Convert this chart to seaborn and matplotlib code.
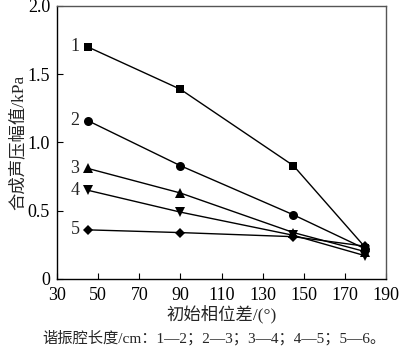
import matplotlib
matplotlib.use("Agg")
import matplotlib.pyplot as plt
import pandas as pd
import seaborn as sns

# initial phase difference (deg)
phase = [45, 90, 145, 180]
# combined sound pressure amplitude (kPa), curves 1-5
amp_1 = [1.70, 1.39, 0.83, 0.23]
amp_2 = [1.16, 0.83, 0.47, 0.22]
amp_3 = [0.81, 0.63, 0.34, 0.20]
amp_4 = [0.65, 0.49, 0.32, 0.17]
amp_5 = [0.36, 0.34, 0.31, 0.24]
curve_names = ["1", "2", "3", "4", "5"]

x_ticks = [30, 50, 70, 90, 110, 130, 150, 170, 190]
y_ticks = [0, 0.5, 1.0, 1.5, 2.0]
y_tick_labels = ["0", "0.5", "1.0", "1.5", "2.0"]

sns.set_theme(style="ticks")
fonts = ["Liberation Serif", "Noto Sans CJK SC", "DejaVu Sans"]
plt.rcParams["font.family"] = fonts

rows = []
for name, vals in zip(curve_names, [amp_1, amp_2, amp_3, amp_4, amp_5]):
    for p, v in zip(phase, vals):
        rows.append({"phase": p, "amp": v, "curve": name})
df = pd.DataFrame(rows)

fig = plt.figure(figsize=(4.0, 3.52), dpi=100)
ax = fig.add_axes([0.1425, 0.2074, 0.8225, 0.7756])

markers = {"1": "s", "2": "o", "3": "^", "4": "v", "5": "D"}
sizes = {"1": 5.5, "2": 6.5, "3": 6.5, "4": 6.5, "5": 5.5}
for name in curve_names:
    sub = df[df["curve"] == name]
    sns.lineplot(data=sub, x="phase", y="amp", ax=ax, color="black",
                 marker=markers[name], markersize=sizes[name],
                 markeredgewidth=0, linewidth=1.0, legend=False)
    ax.text(sub["phase"].iloc[0] - 4, sub["amp"].iloc[0], name,
            ha="right", va="center", fontsize=13, family=fonts)

ax.set_xlim(30, 190)
ax.set_ylim(0, 2.0)
ax.set_xticks(x_ticks)
ax.set_yticks(y_ticks)
ax.set_yticklabels(y_tick_labels)
ax.tick_params(direction="in", length=4, width=0.8, labelsize=13,
               colors="black")
ax.tick_params(axis="x", pad=6)
ax.tick_params(axis="y", pad=5)
for s in ax.spines.values():
    s.set_color("#555555")
    s.set_linewidth(1.0)
ax.spines["left"].set_color("black")
ax.spines["bottom"].set_color("black")

ax.set_xlabel("初始相位差/(°)", fontsize=12.5, labelpad=0)
ax.set_ylabel("合成声压幅值/kPa", fontsize=12.5, labelpad=1)

fig.text(0.105, 0.04, "谐振腔长度/cm：1—2；2—3；3—4；4—5；5—6。",
         fontsize=11, ha="left", va="center")

fig.savefig("out.png", dpi=100, facecolor="white")
